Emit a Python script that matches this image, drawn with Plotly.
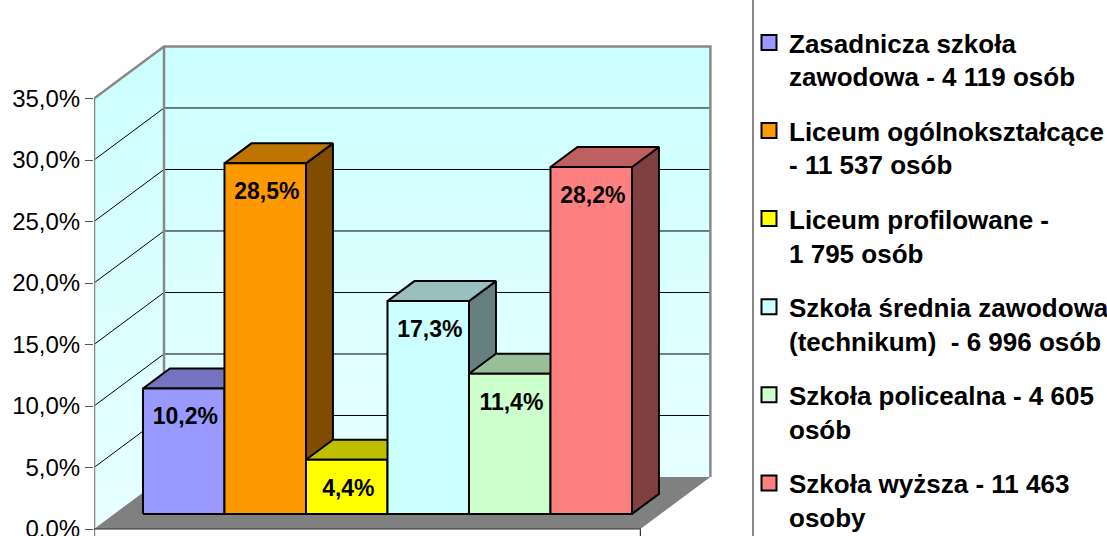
import plotly.graph_objects as go

# ---------------- data ----------------
series_names = [
    "Zasadnicza szkoła<br>zawodowa - 4 119 osób",
    "Liceum ogólnokształcące<br>- 11 537 osób",
    "Liceum profilowane -<br>1 795 osób",
    "Szkoła średnia zawodowa<br>(technikum)  - 6 996 osób",
    "Szkoła policealna - 4 605<br>osób",
    "Szkoła wyższa - 11 463<br>osoby",
]
values = [10.2, 28.5, 4.4, 17.3, 11.4, 28.2]          # percent
front_colors = ["#9999FF", "#FF9900", "#FFFF00", "#CCFFFF", "#CCFFCC", "#FF8080"]
y_ticks = [0, 5, 10, 15, 20, 25, 30, 35]
y_tick_labels = [f"{v:.1f}".replace(".", ",") + "%" for v in y_ticks]

# ---------------- geometry / style ----------------
DX = 0.859      # full-depth shift along x (category units)
DY = 4.23       # full-depth shift along y (percent units)
GAP = 0.352     # floor margin on each side of the bars
BAR_Z0, BAR_Z1 = 0.29, 0.675
Y_MAX = y_ticks[-1]
FLOOR_W = len(values) + 2 * GAP
FONT = "Liberation Sans, Arial, sans-serif"

PX_PER_X = 81.5
L_MARGIN, R_MARGIN = 94, 393
x_range = (1107 - L_MARGIN - R_MARGIN) / PX_PER_X
PX_PER_Y = 12.3
y_low = -7 / PX_PER_Y
y_high = 529 / PX_PER_Y


def P(x, y, z):
    return x + z * DX, y + z * DY


def shade(hexcol, f):
    h = hexcol.lstrip("#")
    r, g, b = (int(h[i:i + 2], 16) for i in (0, 2, 4))
    return "#%02X%02X%02X" % (round(r * f), round(g * f), round(b * f))


def poly(points):
    xs = [p[0] for p in points] + [points[0][0]]
    ys = [p[1] for p in points] + [points[0][1]]
    return xs, ys


fig = go.Figure()

wall_grad = dict(type="vertical", colorscale=[[0, "#E8FFFF"], [1, "#CCFFFF"]])

# left wall
xs, ys = poly([P(0, 0, 0), P(0, Y_MAX, 0), P(0, Y_MAX, 1), P(0, 0, 1)])
fig.add_trace(go.Scatter(x=xs, y=ys, mode="none", fill="toself", fillgradient=wall_grad,
                         showlegend=False, hoverinfo="skip"))
# back wall
xs, ys = poly([P(0, 0, 1), P(0, Y_MAX, 1), P(FLOOR_W, Y_MAX, 1), P(FLOOR_W, 0, 1)])
fig.add_trace(go.Scatter(x=xs, y=ys, mode="none", fill="toself", fillgradient=wall_grad,
                         showlegend=False, hoverinfo="skip"))

# gridlines
gx, gy = [], []
for v in y_ticks[1:-1]:
    for a, b in ((P(0, v, 0), P(0, v, 1)), (P(0, v, 1), P(FLOOR_W, v, 1))):
        gx += [a[0], b[0], None]
        gy += [a[1], b[1], None]
fig.add_trace(go.Scatter(x=gx, y=gy, mode="lines", line=dict(color="#000000", width=1),
                         showlegend=False, hoverinfo="skip"))

# floor
xs, ys = poly([P(0, 0, 0), P(FLOOR_W, 0, 0), P(FLOOR_W, 0, 1), P(0, 0, 1)])
fig.add_trace(go.Scatter(x=xs, y=ys, mode="none", fill="toself", fillcolor="#808080",
                         showlegend=False, hoverinfo="skip"))

# wall edges
ex, ey = [], []
for seg in ([(0, y_low), P(0, Y_MAX, 0), P(0, Y_MAX, 1), P(FLOOR_W, Y_MAX, 1), P(FLOOR_W, 0, 1)],
            [P(0, Y_MAX, 1), P(0, 0, 1)]):
    ex += [p[0] for p in seg] + [None]
    ey += [p[1] for p in seg] + [None]
fig.add_trace(go.Scatter(x=ex, y=ey, mode="lines", line=dict(color="#888888", width=2.5),
                         showlegend=False, hoverinfo="skip"))

# category axis line (floor front edge) with end tick
ax_x = [P(0, 0, 0)[0], P(FLOOR_W, 0, 0)[0], P(FLOOR_W, 0, 0)[0]]
ax_y = [0, 0, y_low]
fig.add_trace(go.Scatter(x=ax_x, y=ax_y, mode="lines", line=dict(color="#333333", width=1.2),
                         showlegend=False, hoverinfo="skip"))

# bars
lab_x, lab_y = [], []
for i, (v, c) in enumerate(zip(values, front_colors)):
    x0 = GAP + i
    x1 = x0 + 1
    side = [P(x1, 0, BAR_Z0), P(x1, 0, BAR_Z1), P(x1, v, BAR_Z1), P(x1, v, BAR_Z0)]
    top = [P(x0, v, BAR_Z0), P(x1, v, BAR_Z0), P(x1, v, BAR_Z1), P(x0, v, BAR_Z1)]
    front = [P(x0, 0, BAR_Z0), P(x1, 0, BAR_Z0), P(x1, v, BAR_Z0), P(x0, v, BAR_Z0)]
    for pts, col in ((side, shade(c, 0.5)), (top, shade(c, 0.75)), (front, c)):
        xs, ys = poly(pts)
        fig.add_trace(go.Scatter(x=xs, y=ys, mode="lines", fill="toself", fillcolor=col,
                                 line=dict(color="#000000", width=2),
                                 showlegend=False, hoverinfo="skip"))
    cx, cy = P(x0 + 0.5, v, BAR_Z0)
    lab_x.append(cx + 0.02)
    lab_y.append(cy - 2.45)

fig.add_trace(go.Scatter(x=lab_x, y=lab_y, mode="text", customdata=values,
                         texttemplate="%{customdata:.1f}%", textposition="middle center",
                         textfont=dict(family=FONT, size=23, color="#000000", weight="bold"),
                         showlegend=False, hoverinfo="skip"))

# legend entries
for i, (name, c) in enumerate(zip(series_names, front_colors)):
    fig.add_trace(go.Scatter(x=[None], y=[None], mode="markers", name=name,
                             legendgroup=f"g{i}",
                             marker=dict(symbol="square", size=15, color=c,
                                         line=dict(color="#000000", width=2))))

fig.update_layout(
    width=1107, height=536,
    margin=dict(l=L_MARGIN, r=R_MARGIN, t=0, b=0, autoexpand=False),
    paper_bgcolor="#FFFFFF", plot_bgcolor="rgba(0,0,0,0)",
    separators=", ",
    font=dict(family=FONT, color="#000000"),
    xaxis=dict(range=[0, x_range], visible=False, fixedrange=True),
    yaxis=dict(range=[y_low, y_high], tickvals=y_ticks, ticktext=y_tick_labels,
               ticks="outside", ticklen=8, tickcolor="#555555", tickwidth=1.2,
               showgrid=False, zeroline=False, showline=False, automargin=False,
               ticklabeloverflow="allow",
               tickfont=dict(family=FONT, size=24, color="#000000"), fixedrange=True),
    legend=dict(xref="container", yref="container", x=749 / 1107, y=1 - 19 / 536,
                xanchor="left", yanchor="top", valign="top", tracegroupgap=17.5,
                itemsizing="trace", bgcolor="rgba(0,0,0,0)", maxheight=600,
                font=dict(family=FONT, size=26, color="#000000", weight="bold")),
    shapes=[dict(type="line", xref="paper", yref="paper",
                 x0=(753 - L_MARGIN) / (1107 - L_MARGIN - R_MARGIN),
                 x1=(753 - L_MARGIN) / (1107 - L_MARGIN - R_MARGIN),
                 y0=0, y1=1.1, line=dict(color="#888888", width=2))],
    showlegend=True,
)

fig.write_html("out.html", config={"displayModeBar": False},
               post_script="document.body.style.margin='0';document.body.style.overflow='hidden';")
